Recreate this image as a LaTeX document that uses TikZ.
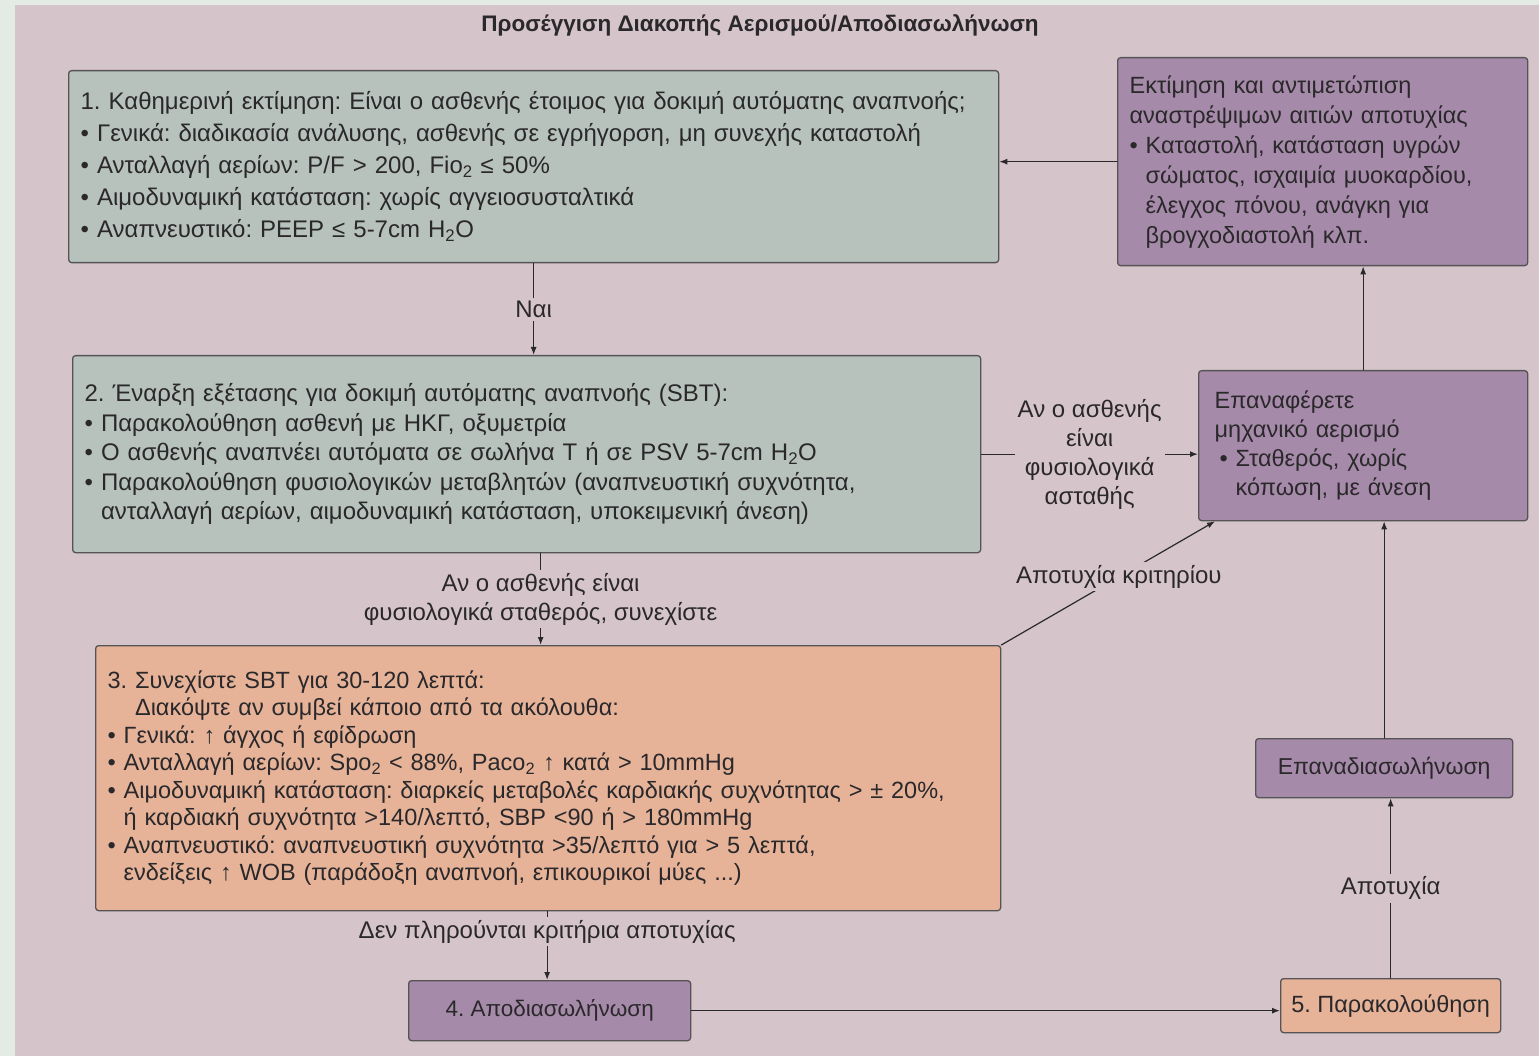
\documentclass[tikz,border=0pt]{standalone}
\usepackage{fontspec}
\setmainfont{Liberation Sans}
\usetikzlibrary{arrows.meta}

\definecolor{pagebg}{HTML}{D5C5CA}
\definecolor{edgebg}{HTML}{E4EAE4}
\definecolor{sagefill}{HTML}{B6C2BB}
\definecolor{mauvefill}{HTML}{A68AA9}
\definecolor{peachfill}{HTML}{E6B398}
\definecolor{ink}{HTML}{2A282B}

\newcommand{\ind}{\phantom{•\ }}
\frenchspacing

\begin{document}
\begin{tikzpicture}[x=1pt, y=-1pt, line cap=round, line join=round,
    every node/.style={text=ink},
    box/.style={draw=ink!80, line width=1.3pt, rounded corners=3pt, anchor=north west,
      align=left, inner xsep=12pt, inner ysep=0pt},
    sage/.style={box, fill=sagefill, font=\fontsize{24}{32}\selectfont},
    mauve/.style={box, fill=mauvefill, font=\fontsize{23.5}{30}\selectfont},
    peach/.style={box, fill=peachfill, font=\fontsize{23.5}{27.5}\selectfont},
    lbl/.style={fill=pagebg, inner sep=3pt, align=center, font=\fontsize{24}{29}\selectfont},
    arr/.style={draw=ink, line width=1.2pt, -{Latex[length=8pt,width=6pt]}}]
  \useasboundingbox (0,0) rectangle (1539,1056);
  \fill[pagebg] (0,0) rectangle (1539,1056);
  \fill[edgebg] (0,0) rectangle (15,1056);
  \fill[edgebg] (0,0) rectangle (1539,5);

  \node[font=\bfseries\fontsize{22.5}{26}\selectfont] (title) at (760,25)
    {Προσέγγιση Διακοπής Αερισμού/Αποδιασωλήνωση};

  % left column
  \node[sage, text width=906pt, minimum height=192pt] (daily) at (68,70)
    {1. Καθημερινή εκτίμηση: Είναι ο ασθενής έτοιμος για δοκιμή αυτόματης αναπνοής;\\
     • Γενικά: διαδικασία ανάλυσης, ασθενής σε εγρήγορση, μη συνεχής καταστολή\\
     • Ανταλλαγή αερίων: P/F > 200, Fio\textsubscript{2} ≤ 50\%\\
     • Αιμοδυναμική κατάσταση: χωρίς αγγειοσυσταλτικά\\
     • Αναπνευστικό: PEEP ≤ 5-7cm H\textsubscript{2}O};
  \node[sage, text width=884pt, minimum height=197pt, font=\fontsize{24}{29.5}\selectfont] (sbt) at (72,355)
    {2. Έναρξη εξέτασης για δοκιμή αυτόματης αναπνοής (SBT):\\
     • Παρακολούθηση ασθενή με ΗΚΓ, οξυμετρία\\
     • Ο ασθενής αναπνέει αυτόματα σε σωλήνα Τ ή σε PSV 5-7cm H\textsubscript{2}O\\
     • Παρακολούθηση φυσιολογικών μεταβλητών (αναπνευστική συχνότητα,\\
     \ind ανταλλαγή αερίων, αιμοδυναμική κατάσταση, υποκειμενική άνεση)};
  \node[peach, text width=881pt, minimum height=265pt] (trial) at (95,645)
    {3. Συνεχίστε SBT για 30-120 λεπτά:\\
     \phantom{3. }Διακόψτε αν συμβεί κάποιο από τα ακόλουθα:\\
     • Γενικά: ↑ άγχος ή εφίδρωση\\
     • Ανταλλαγή αερίων: Spo\textsubscript{2} < 88\%, Paco\textsubscript{2} ↑ κατά > 10mmHg\\
     • Αιμοδυναμική κατάσταση: διαρκείς μεταβολές καρδιακής συχνότητας > ± 20\%,\\
     \ind ή καρδιακή συχνότητα >140/λεπτό, SBP <90 ή > 180mmHg\\
     • Αναπνευστικό: αναπνευστική συχνότητα >35/λεπτό για > 5 λεπτά,\\
     \ind ενδείξεις ↑ WOB (παράδοξη αναπνοή, επικουρικοί μύες ...)};
  \node[mauve, align=center, minimum width=282pt, minimum height=60pt, font=\fontsize{22.5}{26}\selectfont] (extub) at (408,980)
    {4. Αποδιασωλήνωση};
  \node[box, fill=peachfill, align=center, inner xsep=6pt, minimum width=220pt, minimum height=54pt, font=\fontsize{23.5}{27}\selectfont] (monitor) at (1280,978)
    {5. Παρακολούθηση};

  % right column
  \node[mauve, text width=386pt, minimum height=208pt] (causes) at (1117,57)
    {Εκτίμηση και αντιμετώπιση\\
     αναστρέψιμων αιτιών αποτυχίας\\
     • Καταστολή, κατάσταση υγρών\\
     \ind σώματος, ισχαιμία μυοκαρδίου,\\
     \ind έλεγχος πόνου, ανάγκη για\\
     \ind βρογχοδιαστολή κλπ.};
  \node[mauve, text width=297pt, inner xsep=16pt, minimum height=150pt, font=\fontsize{23.5}{29}\selectfont] (resume) at (1198,370)
    {Επαναφέρετε\\
     μηχανικό αερισμό\\
     \hspace*{5pt}• Σταθερός, χωρίς\\
     \hspace*{5pt}\ind κόπωση, με άνεση};
  \node[mauve, align=center, minimum width=257pt, minimum height=59pt, font=\fontsize{23}{27}\selectfont] (reintub) at (1255,738)
    {Επαναδιασωλήνωση};

  % connectors
  \draw[arr] (daily.south) -- node[lbl]{Ναι} (daily.south |- sbt.north);
  \draw[arr] ([xshift=14pt]sbt.south) -- node[lbl]{Αν ο ασθενής είναι\\ φυσιολογικά σταθερός, συνεχίστε} ([xshift=14pt]sbt.south |- trial.north);
  \draw[arr] ([xshift=-1pt]trial.south) -- node[lbl, pos=0.3]{Δεν πληρούνται κριτήρια αποτυχίας} ([xshift=-1pt]trial.south |- extub.north);
  \draw[arr] (extub.east) -- (extub.east -| monitor.west);
  \draw[arr] (sbt.east) -- node[lbl]{Αν ο ασθενής\\ είναι\\ φυσιολογικά\\ ασταθής} (sbt.east -| resume.west);
  \draw[arr] (trial.north east) -- node[lbl, pos=0.55]{Αποτυχία κριτηρίου} ([xshift=17pt]resume.south west);
  \draw[arr] (causes.west) -- (causes.west -| daily.east);
  \draw[arr] (monitor.north) -- node[lbl]{Αποτυχία} (monitor.north |- reintub.south);
  \foreach \from/\to in {reintub/resume, resume/causes}
    \draw[arr] (\from.north) -- (\from.north |- \to.south);
\end{tikzpicture}
\end{document}
